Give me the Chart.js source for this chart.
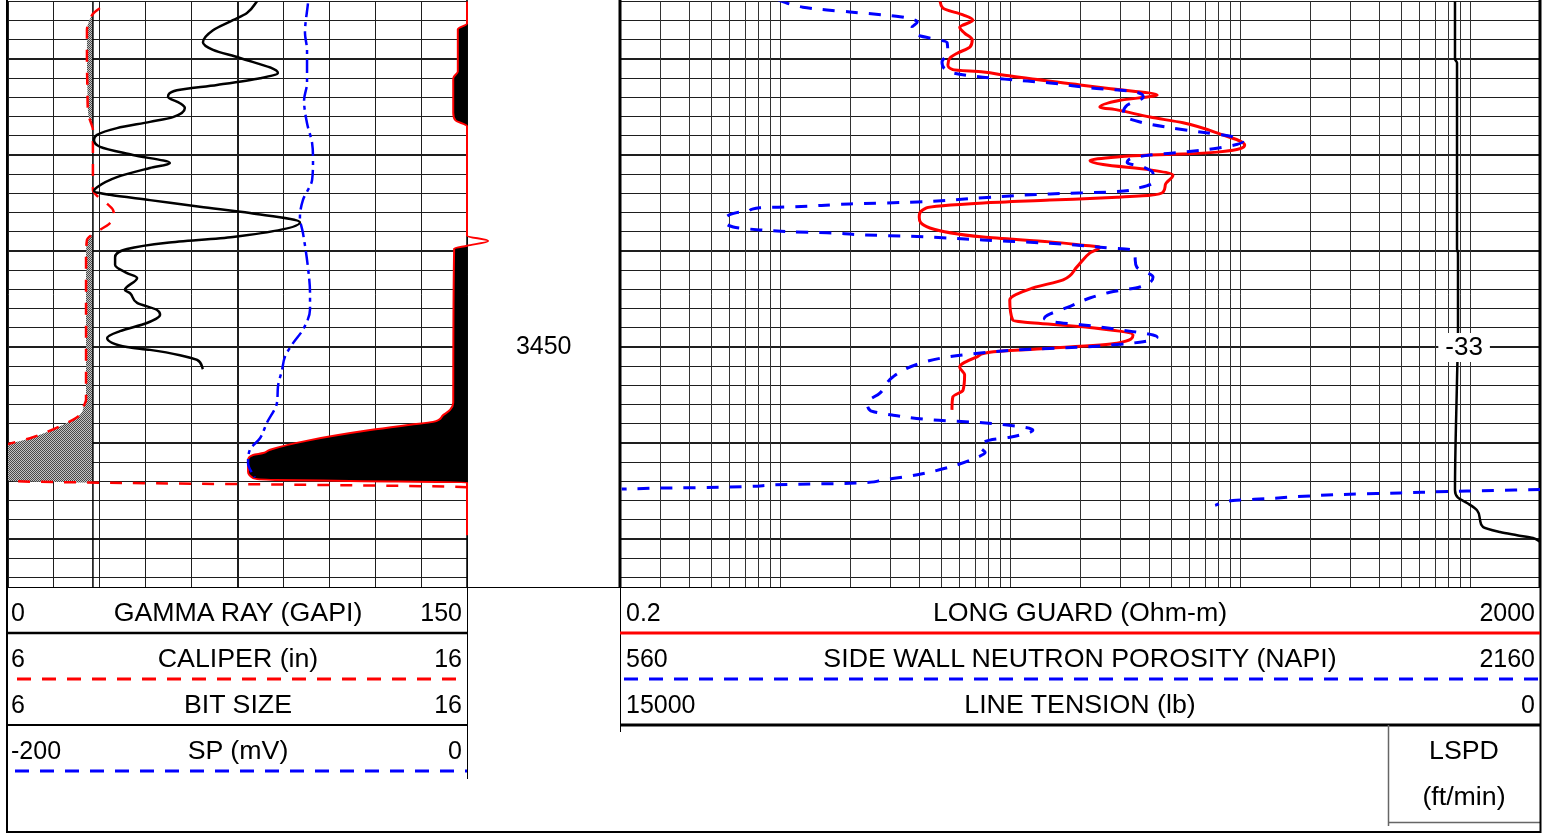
<!DOCTYPE html>
<html>
<head>
<meta charset="utf-8">
<title>Well log</title>
<script src="https://cdn.jsdelivr.net/npm/chart.js@4.4.1/dist/chart.umd.min.js"></script>
<style>
  html, body { margin:0; padding:0; background:#fff; }
  body { width:1554px; height:834px; position:relative; overflow:hidden; font-family:"Liberation Sans", Arial, sans-serif; color:#000; }
  canvas { position:absolute; top:0; }
  .t { position:absolute; font-size:25px; line-height:30px; white-space:nowrap; }
  .c { transform:translateX(-50%) scaleX(1.07); }
  .r { transform:translateX(-100%); }
  svg { position:absolute; left:0; top:0; }
</style>
</head>
<body>
<canvas id="cR" width="1087" height="600" style="left:467px"></canvas>
<canvas id="cL" width="500" height="600" style="left:0px"></canvas>

<svg width="1554" height="834">
  <g stroke="#000" fill="none">
    <line x1="7" y1="587.5" x2="1541" y2="587.5" stroke-width="1"/>
    <line x1="7" y1="633" x2="467" y2="633" stroke-width="2.5"/>
    <line x1="7" y1="725" x2="467" y2="725" stroke-width="2"/>
    <line x1="467.5" y1="587" x2="467.5" y2="779" stroke-width="1"/>
    <line x1="620" y1="725" x2="1540" y2="725" stroke-width="3"/>
    <line x1="620.5" y1="587" x2="620.5" y2="732" stroke-width="1"/>
    <line x1="1388.5" y1="725" x2="1388.5" y2="826" stroke="#666" stroke-width="1.5"/>
    <line x1="1388" y1="822.5" x2="1540" y2="822.5" stroke="#666" stroke-width="1.5"/>
    <line x1="7" y1="0" x2="7" y2="833" stroke-width="2"/>
    <line x1="6" y1="832" x2="1541" y2="832" stroke-width="2"/>
    <line x1="1540.5" y1="587" x2="1540.5" y2="833" stroke-width="2"/>
  </g>
  <line x1="17" y1="679" x2="467" y2="679" stroke="#f00" stroke-width="3" stroke-dasharray="14 11"/>
  <line x1="15" y1="771" x2="467" y2="771" stroke="#00f" stroke-width="3" stroke-dasharray="14 11"/>
  <line x1="620" y1="633" x2="1540" y2="633" stroke="#f00" stroke-width="3"/>
  <line x1="624" y1="679" x2="1540" y2="679" stroke="#00f" stroke-width="3" stroke-dasharray="14 11"/>
</svg>

<div class="t" style="left:11px;top:597px">0</div>
<div class="t c" style="left:237.5px;top:597px">GAMMA RAY (GAPI)</div>
<div class="t r" style="left:462px;top:597px">150</div>
<div class="t" style="left:11px;top:643px">6</div>
<div class="t c" style="left:237.5px;top:643px">CALIPER (in)</div>
<div class="t r" style="left:462px;top:643px">16</div>
<div class="t" style="left:11px;top:689px">6</div>
<div class="t c" style="left:237.5px;top:689px">BIT SIZE</div>
<div class="t r" style="left:462px;top:689px">16</div>
<div class="t" style="left:11px;top:735px">-200</div>
<div class="t c" style="left:237.5px;top:735px">SP (mV)</div>
<div class="t r" style="left:462px;top:735px">0</div>

<div class="t" style="left:626px;top:597px">0.2</div>
<div class="t c" style="left:1080px;top:597px">LONG GUARD (Ohm-m)</div>
<div class="t r" style="left:1535px;top:597px">2000</div>
<div class="t" style="left:626px;top:643px">560</div>
<div class="t c" style="left:1080px;top:643px">SIDE WALL NEUTRON POROSITY (NAPI)</div>
<div class="t r" style="left:1535px;top:643px">2160</div>
<div class="t" style="left:626px;top:689px">15000</div>
<div class="t c" style="left:1080px;top:689px">LINE TENSION (lb)</div>
<div class="t r" style="left:1535px;top:689px">0</div>
<div class="t c" style="left:1464px;top:735px">LSPD</div>
<div class="t c" style="left:1464px;top:781px">(ft/min)</div>

<script>
// ---------- depth axis ----------
const DEPTH_MIN = 3414;
const DEPTH_MAX = 3475;
const DEPTH_GRID = [3414,3416,3418,3420,3422,3424,3426,3428,3430,3432,3434,3436,3438,3440,3442,3444,3446,3448,3450,3452,3454,3456,3458,3460,3462,3464,3466,3468,3470,3472,3474];
const DEPTH_LABELS = [3450];
const LOG_GRID = [0.2,0.3,0.4,0.5,0.6,0.7,0.8,0.9,1,2,3,4,5,6,7,8,9,10,20,30,40,50,60,70,80,90,100,200,300,400,500,600,700,800,900,1000,2000];

// ---------- track 1 ----------
const GR_DEPTH = [3413.85,3415.2,3415.95,3417.0,3418.25,3419.05,3419.9,3421.45,3422.0,3422.7,3423.25,3423.95,3424.6,3425.1,3426.05,3426.55,3427.2,3427.9,3428.45,3429.15,3430.0,3430.85,3431.35,3432.3,3433.35,3433.75,3434.15,3434.7,3435.4,3436.05,3437.0,3438.55,3439.15,3439.8,3440.65,3441.45,3442.3,3442.8,3444.05,3444.4,3445.4,3446.15,3446.65,3447.5,3448.35,3449.05,3450.0,3450.3,3450.85,3451.35,3452.3];
const GR_VALUE = [81.7,78.1,73.5,67.0,63.7,67.0,75.8,88.2,82.4,68.3,55.2,52.3,56.2,57.8,53.9,46.4,35.6,29.1,28.1,30.1,40.8,52.9,46.4,35.6,29.1,28.1,33.3,46.4,62.7,79.1,95.4,73.5,52.0,38.9,35.0,35.0,38.9,42.2,38.2,39.9,42.2,48.7,49.7,45.4,36.6,32.4,38.9,46.4,56.2,61.8,63.7];

const CAL_DEPTH = [3414.7,3415.2,3416.15,3417.0,3420.1,3423.2,3425.8,3426.55,3427.4,3433.65,3434.25,3435.0,3435.75,3436.45,3437.2,3437.8,3438.3,3438.85,3440.9,3455.5,3456.15,3456.8,3457.4,3458.1,3458.85,3459.5,3460.1,3460.7,3463.4,3463.95,3464.6,3464.9];
const CAL_VALUE = [8.0,7.87,7.76,7.72,7.72,7.73,7.75,7.8,7.85,7.85,7.94,8.14,8.29,8.31,8.2,8.0,7.83,7.72,7.7,7.7,7.65,7.61,7.48,7.2,6.85,6.48,6.0,5.5,5.5,6.0,16.0,16.5];

const BIT_SIZE = 7.85;
const BS_DEPTH = [3414, 3475];

const CALX_DEPTH = [3414.0,3416.3,3416.9,3421.3,3422.0,3425.6,3426.4,3427.0,3438.4,3438.95,3439.45,3439.75,3455.8,3456.55,3457.1,3457.8,3458.1,3458.65,3459.7,3460.7,3461.05,3461.25,3461.8,3463.0,3463.65,3463.85,3463.95,3464.1,3469.6];
const CALX_VALUE = [16.0,16.0,15.8,15.8,15.7,15.7,15.75,16.0,16.0,16.46,16.0,15.72,15.7,15.63,15.48,15.26,14.76,13.89,12.58,11.71,11.56,11.34,11.23,11.23,11.34,11.82,13.45,16.0,16.0];

const SP_DEPTH = [3414.2,3417.3,3419.05,3422.5,3424.3,3426.7,3428.75,3430.5,3432.6,3434.7,3436.5,3438.1,3441.7,3444.4,3446.1,3448.2,3449.6,3451.0,3452.4,3454.2,3455.8,3457.9,3459.5,3460.7,3462.1,3463.6];
const SP_VALUE = [-69.3,-70.6,-69.7,-69.7,-71.0,-69.7,-67.5,-67.1,-67.5,-71.5,-72.8,-71.5,-69.3,-68.4,-68.4,-71.5,-75.8,-79.3,-80.6,-82.4,-82.8,-87.2,-90.2,-94.6,-95.4,-92.5];

// ---------- track 2 ----------
const RES_DEPTH = [3413.85,3414.7,3415.4,3415.95,3416.7,3417.3,3418.0,3418.75,3419.4,3419.9,3420.6,3421.1,3421.35,3421.7,3422.7,3423.1,3423.75,3424.3,3425.0,3425.3,3426.05,3426.65,3427.7,3428.96,3429.7,3429.9,3430.0,3430.2,3430.6,3431.0,3431.55,3432.1,3433.1,3433.85,3434.2,3434.4,3434.7,3435.0,3435.5,3436.45,3437.6,3438.55,3439.05,3439.4,3439.6,3440.2,3441.65,3443.0,3443.85,3445.1,3447.2,3447.4,3447.9,3448.75,3449.6,3450.2,3450.5,3451.05,3452.1,3452.9,3454.5,3455.2,3456.55];
const RES_VALUE = [4.92,5.07,6.2,6.85,6.0,6.3,6.8,6.65,5.85,5.44,5.33,5.6,7.6,9.4,20.0,27.2,43.3,29.9,24.4,29.0,40.3,56.1,78.8,104,78.8,56.0,40.3,29.0,22.1,25.2,40.3,50.7,47.0,46.0,40.3,29.0,14.8,7.6,4.3,4.0,4.45,7.6,14.8,20.6,24.4,22.1,19.4,16.9,12.5,9.9,10.2,11.3,20.6,34.0,29.0,13.0,8.4,7.1,6.0,6.3,6.2,5.6,5.55];

const NEU_DEPTH = [3413.85,3414.6,3414.9,3415.1,3415.6,3416.15,3416.7,3417.5,3418.3,3419.4,3420.3,3421.35,3421.9,3422.2,3422.5,3423.0,3423.4,3423.95,3424.8,3425.8,3426.65,3427.1,3427.6,3428.1,3428.6,3429.3,3429.7,3430.0,3430.3,3430.8,3431.25,3431.9,3432.8,3433.4,3433.85,3434.05,3434.45,3434.9,3435.1,3435.4,3435.5,3435.9,3436.0,3436.8,3437.5,3437.8,3438.0,3438.1,3438.3,3438.5,3438.85,3439.2,3439.6,3439.9,3440.9,3441.7,3442.7,3443.75,3444.3,3444.9,3445.9,3446.7,3447.0,3447.4,3447.7,3448.4,3448.75,3448.95,3449.5,3450.0,3450.3,3450.6,3451.0,3451.7,3453.1,3454.8,3455.8,3456.6,3457.1,3457.6,3457.9,3458.65,3459.4,3459.7,3460.4,3461.0,3461.5,3462.5,3463.3,3463.85,3464.2,3464.3,3464.6,3464.7,3464.8,3464.82,3464.85,3465.0,3465.2,3465.4,3465.8,3466.0,3466.5];
const NEU_VALUE = [835,878,920,960,1047,1077,1068,1077,1129,1130,1120,1134,1191,1250,1308,1377,1452,1470,1442,1435,1470,1511,1569,1626,1643,1598,1539,1482,1452,1442,1470,1487,1487,1464,1412,1308,1191,1077,960,861,803,781,763,743,757,803,861,920,977,1077,1191,1308,1395,1452,1456,1459,1487,1464,1412,1377,1337,1303,1298,1316,1365,1452,1487,1494,1464,1365,1250,1191,1134,1082,1035,1012,990,995,1035,1104,1191,1278,1238,1203,1186,1195,1181,1134,1077,1017,960,861,746,630,563,null,2160,2033,1917,1800,1685,1626,1595];

const TEN_DEPTH = [3413.85,3420.0,3420.4,3439.8,3440.2,3448.2,3453.4,3464.9,3465.7,3466.25,3467.0,3468.0,3468.75,3469.27,3469.6,3469.9,3470.3];
const TEN_VALUE = [1386,1386,1353,1353,1337,1337,1353,1386,1337,1190,1027,978,929,652,375,114,0];

const LSPD_DEPTH = [3450];
const LSPD_VALUE = [-33];

// ---------- helpers ----------
const pts = (d, v) => d.map((y, i) => ({x: v[i], y: y}));
Chart.defaults.font.family = '"Liberation Sans", Arial, sans-serif';
const GRID_COLOR = '#1e1e1e';
const depthLineWidth = c => (c.tick && Math.round(c.tick.value) % 10 === 0) ? 2 : 1;
const yDepth = (extra) => Object.assign({
  type: 'linear', reverse: true, min: DEPTH_MIN, max: DEPTH_MAX, position: 'left',
  afterBuildTicks: s => { s.ticks = DEPTH_GRID.map(v => ({value: v})); },
  ticks: {display: false},
  grid: {color: GRID_COLOR, lineWidth: depthLineWidth, drawTicks: false},
  border: {display: false}
}, extra || {});

const framePlugin = {
  id: 'frame',
  beforeDatasetsDraw(chart, args, opts) {
    const {ctx, chartArea: a} = chart;
    ctx.save();
    ctx.fillStyle = '#000';
    (opts.edges || []).forEach(e => {
      const x = e.side === 'left' ? a.left : a.right;
      ctx.fillRect(x - e.w / 2, 0, e.w, a.bottom);
    });
    ctx.restore();
  }
};

let mudPattern = null;
const mudcakePlugin = {
  id: 'mudcake',
  beforeDatasetsDraw(chart, args, opts) {
    const ctx = chart.ctx, a = chart.chartArea;
    const meta = chart.getDatasetMeta(opts.datasetIndex);
    const line = meta.dataset;
    const points = meta.data;
    if (!line || !points.length) return;
    if (!mudPattern) {
      const pc = document.createElement('canvas');
      pc.width = 2; pc.height = 2;
      const g = pc.getContext('2d');
      g.fillStyle = '#c4c4c4'; g.fillRect(0, 0, 2, 2);
      g.fillStyle = '#4a4a4a'; g.fillRect(0, 0, 1, 1); g.fillRect(1, 1, 1, 1);
      mudPattern = ctx.createPattern(pc, 'repeat');
    }
    const bx = chart.scales[opts.scaleId].getPixelForValue(opts.bitSize);
    ctx.save();
    ctx.beginPath();
    ctx.rect(a.left, a.top, bx - a.left, a.bottom - a.top);
    ctx.clip();
    ctx.beginPath();
    if (typeof line.updateControlPoints === 'function') line.updateControlPoints(a, 'y');
    if (typeof line.path === 'function') {
      line.path(ctx);
    } else {
      points.forEach((p, i) => i ? ctx.lineTo(p.x, p.y) : ctx.moveTo(p.x, p.y));
    }
    ctx.lineTo(bx, points[points.length - 1].y);
    ctx.lineTo(bx, points[0].y);
    ctx.closePath();
    ctx.fillStyle = mudPattern;
    ctx.fill();
    ctx.restore();
  }
};

const lspdPlugin = {
  id: 'lspd',
  afterDatasetsDraw(chart, args, opts) {
    const ctx = chart.ctx, a = chart.chartArea;
    LSPD_DEPTH.forEach((d, i) => {
      const y = chart.scales.y.getPixelForValue(d);
      const x = a.left + (a.right - a.left) * opts.xFrac;
      const txt = String(LSPD_VALUE[i]);
      ctx.save();
      ctx.font = '26px "Liberation Sans", Arial, sans-serif';
      const w = ctx.measureText(txt).width;
      ctx.fillStyle = '#fff';
      ctx.fillRect(x - w / 2 - 7, y - 14, w + 14, 29);
      ctx.fillStyle = '#000';
      ctx.textAlign = 'center';
      ctx.textBaseline = 'middle';
      ctx.fillText(txt, x, y + 1);
      ctx.restore();
    });
  }
};

const baseOpts = {
  responsive: false,
  animation: false,
  indexAxis: 'y',
  events: [],
  elements: {point: {radius: 0}, line: {cubicInterpolationMode: 'monotone'}},
};

// ---------- left chart ----------
new Chart(document.getElementById('cL'), {
  type: 'line',
  data: {
    datasets: [
      {label: 'GAMMA RAY', data: pts(GR_DEPTH, GR_VALUE), xAxisID: 'gr', yAxisID: 'y', borderColor: '#000', borderWidth: 2.5, fill: false},
      {label: 'SP', data: pts(SP_DEPTH, SP_VALUE), xAxisID: 'sp', yAxisID: 'y', borderColor: '#0000ff', borderWidth: 2.5, borderDash: [14, 5, 4, 5], fill: false},
      {label: 'CALIPER', data: pts(CAL_DEPTH, CAL_VALUE), xAxisID: 'cal', yAxisID: 'y', borderColor: '#ff0000', borderWidth: 2.5, borderDash: [12, 11], fill: false},
      {label: 'BIT SIZE', data: pts(BS_DEPTH, BS_DEPTH.map(() => BIT_SIZE)), xAxisID: 'cal', yAxisID: 'y', borderColor: '#000', borderWidth: 1.5, fill: false, cubicInterpolationMode: 'default', tension: 0},
      {label: 'CALIPER EXCESS', data: pts(CALX_DEPTH, CALX_VALUE), xAxisID: 'cal', yAxisID: 'y', borderColor: '#ff0000', borderWidth: 2, backgroundColor: '#000', fill: {value: 16}, clip: false}
    ]
  },
  options: Object.assign({}, baseOpts, {
    layout: {padding: {left: 8, top: 1.4, right: 33, bottom: 13}},
    plugins: {
      legend: {display: false}, tooltip: {enabled: false},
      frame: {edges: [{side: 'right', w: 1.5}]},
      mudcake: {datasetIndex: 2, scaleId: 'cal', bitSize: BIT_SIZE}
    },
    scales: {
      y: yDepth(),
      gr: {axis: 'x', type: 'linear', position: 'bottom', min: 0, max: 150,
        ticks: {display: false, stepSize: 15},
        grid: {color: GRID_COLOR, lineWidth: c => (c.tick && c.tick.value === 75) ? 2 : 1, drawTicks: false},
        border: {display: false}},
      cal: {axis: 'x', type: 'linear', position: 'bottom', min: 6, max: 16, display: false},
      sp: {axis: 'x', type: 'linear', position: 'bottom', min: -200, max: 0, display: false}
    }
  }),
  plugins: [framePlugin, mudcakePlugin]
});

// ---------- right chart ----------
new Chart(document.getElementById('cR'), {
  type: 'line',
  data: {
    datasets: [
      {label: 'SIDE WALL NEUTRON POROSITY', data: pts(NEU_DEPTH, NEU_VALUE), xAxisID: 'neu', yAxisID: 'y', borderColor: '#0000ff', borderWidth: 3, borderDash: [12, 11], fill: false},
      {label: 'LONG GUARD', data: pts(RES_DEPTH, RES_VALUE), xAxisID: 'res', yAxisID: 'y', borderColor: '#ff0000', borderWidth: 3, fill: false},
      {label: 'LINE TENSION', data: pts(TEN_DEPTH, TEN_VALUE), xAxisID: 'ten', yAxisID: 'y', borderColor: '#000', borderWidth: 2.5, fill: false}
    ]
  },
  options: Object.assign({}, baseOpts, {
    layout: {padding: {left: 0, top: 1.4, right: 14, bottom: 13}},
    plugins: {
      legend: {display: false}, tooltip: {enabled: false},
      frame: {edges: [{side: 'left', w: 3}, {side: 'right', w: 3}]},
      lspd: {xFrac: 0.9175}
    },
    scales: {
      y: yDepth({
        afterFit: s => { s.width = 153; s.paddingTop = 0; s.paddingBottom = 0; },
        ticks: {display: true, autoSkip: false, crossAlign: 'center', padding: 48.5, color: '#000',
          font: {size: 25}, callback: v => DEPTH_LABELS.includes(v) ? String(v) : ''}
      }),
      res: {axis: 'x', type: 'logarithmic', position: 'bottom', min: 0.2, max: 2000,
        afterBuildTicks: s => { s.ticks = LOG_GRID.map(v => ({value: v})); },
        ticks: {display: false},
        grid: {color: '#333', lineWidth: 1, drawTicks: false},
        border: {display: false}},
      neu: {axis: 'x', type: 'linear', position: 'bottom', min: 560, max: 2160, display: false},
      ten: {axis: 'x', type: 'linear', position: 'bottom', min: 0, max: 15000, reverse: true, display: false}
    }
  }),
  plugins: [framePlugin, lspdPlugin]
});
</script>
</body>
</html>
